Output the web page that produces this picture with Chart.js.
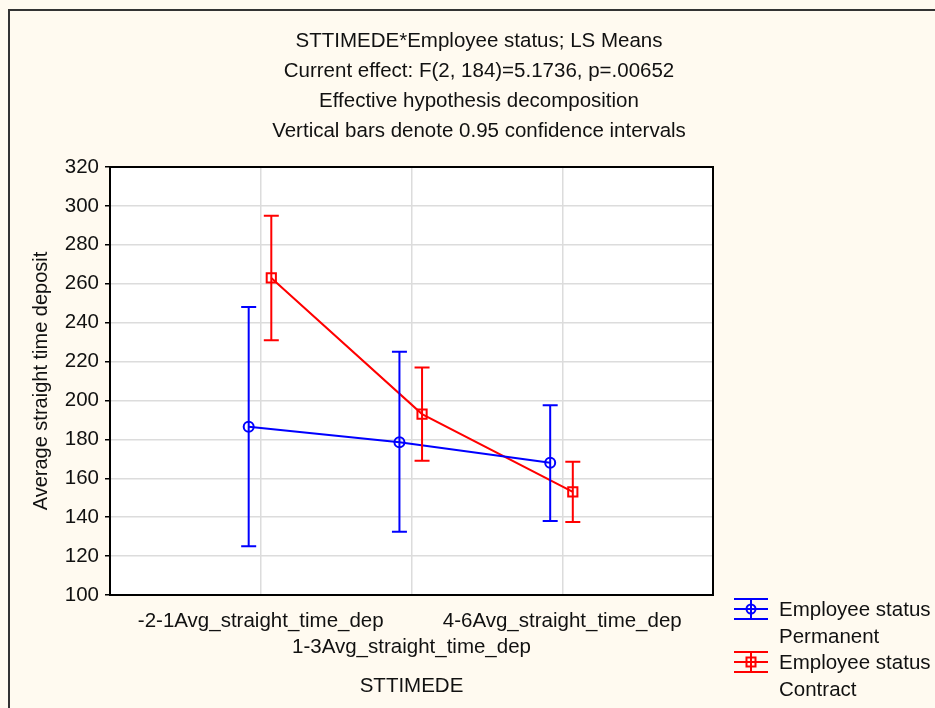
<!DOCTYPE html>
<html>
<head>
<meta charset="utf-8">
<script src="https://cdn.jsdelivr.net/npm/chart.js@4.4.0/dist/chart.umd.min.js"></script>
<style>
  html, body { margin: 0; background: #fffaf0; }
  canvas { display: block; }
</style>
</head>
<body>
<canvas id="lsMeansChart" width="935" height="708"></canvas>
<script>
// Datos: medias LS e intervalos de confianza al 95%
const levels = ['-2-1Avg_straight_time_dep', '1-3Avg_straight_time_dep', '4-6Avg_straight_time_dep'];
const levelPos = [1, 2, 3];
const yTicks = [100, 120, 140, 160, 180, 200, 220, 240, 260, 280, 300, 320];

const permanentMean = [186.5, 178.5, 168];
const permanentLow = [125, 132.5, 138];
const permanentHigh = [248, 225, 197.5];

const contractMean = [263, 193, 153];
const contractLow = [231, 169, 137.5];
const contractHigh = [295, 217, 168.5];

const titleLines = [
    'STTIMEDE*Employee status; LS Means',
    'Current effect: F(2, 184)=5.1736, p=.00652',
    'Effective hypothesis decomposition',
    'Vertical bars denote 0.95 confidence intervals'
];
const legendItems = [
    { lines: ['Employee status', 'Permanent'], color: '#0000ff', marker: 'circle' },
    { lines: ['Employee status', 'Contract'], color: '#ff0000', marker: 'rect' }
];

const FONT = '"Liberation Sans", Arial, sans-serif';
const TEXT = '#111111';
const BG = '#fffaf0';

// pequeño desplazamiento horizontal de cada serie respecto a su nivel
const shift = { permanent: -0.08, contract: 0.07 };

function toPoints(values, dx) {
    return values.map((v, i) => ({ x: levelPos[i] + dx, y: v }));
}

// Fondo, marco exterior, borde del área del gráfico y títulos
const framePlugin = {
    id: 'frame',
    beforeDraw(chart) {
        const { ctx, chartArea: a } = chart;
        ctx.save();
        ctx.fillStyle = BG;
        ctx.fillRect(0, 0, chart.width, chart.height);
        ctx.fillStyle = '#ffffff';
        ctx.fillRect(a.left, a.top, a.right - a.left, a.bottom - a.top);
        ctx.strokeStyle = '#333333';
        ctx.lineWidth = 2;
        ctx.beginPath();
        ctx.moveTo(9, chart.height);
        ctx.lineTo(9, 10);
        ctx.lineTo(chart.width, 10);
        ctx.stroke();
        ctx.restore();
    },
    afterDraw(chart) {
        const { ctx, chartArea: a } = chart;
        ctx.save();
        ctx.strokeStyle = '#000000';
        ctx.lineWidth = 2;
        ctx.strokeRect(a.left, a.top, a.right - a.left, a.bottom - a.top);

        ctx.fillStyle = TEXT;
        ctx.font = '20.5px ' + FONT;
        ctx.textAlign = 'center';
        ctx.textBaseline = 'alphabetic';
        titleLines.forEach((t, i) => ctx.fillText(t, 479, 46.5 + i * 30.3));
        ctx.restore();
    }
};

// Barras de error verticales
const errorBarPlugin = {
    id: 'errorBars',
    afterDatasetsDraw(chart) {
        const { ctx, scales } = chart;
        ctx.save();
        chart.data.datasets.forEach((ds, di) => {
            const meta = chart.getDatasetMeta(di);
            ctx.strokeStyle = ds.borderColor;
            ctx.lineWidth = 2;
            meta.data.forEach((pt, i) => {
                const yLo = scales.y.getPixelForValue(ds.low[i]);
                const yHi = scales.y.getPixelForValue(ds.high[i]);
                const cap = 7.5;
                ctx.beginPath();
                ctx.moveTo(pt.x, yLo);
                ctx.lineTo(pt.x, yHi);
                ctx.moveTo(pt.x - cap, yLo);
                ctx.lineTo(pt.x + cap, yLo);
                ctx.moveTo(pt.x - cap, yHi);
                ctx.lineTo(pt.x + cap, yHi);
                ctx.stroke();
            });
        });
        ctx.restore();
    }
};

// Leyenda a la derecha, debajo del gráfico
const legendPlugin = {
    id: 'sideLegend',
    afterDraw(chart) {
        const { ctx } = chart;
        ctx.save();
        ctx.font = '20.5px ' + FONT;
        ctx.textAlign = 'left';
        ctx.textBaseline = 'middle';
        legendItems.forEach((item, k) => {
            const cy = 609 + k * 53;
            const x0 = 734, x1 = 768, cx = (x0 + x1) / 2;
            ctx.strokeStyle = item.color;
            ctx.lineWidth = 2;
            ctx.beginPath();
            ctx.moveTo(x0, cy - 10); ctx.lineTo(x1, cy - 10);
            ctx.moveTo(x0, cy); ctx.lineTo(x1, cy);
            ctx.moveTo(x0, cy + 10); ctx.lineTo(x1, cy + 10);
            ctx.moveTo(cx, cy - 10); ctx.lineTo(cx, cy + 10);
            ctx.stroke();
            ctx.lineWidth = 2;
            ctx.beginPath();
            if (item.marker === 'circle') {
                ctx.arc(cx, cy, 4.5, 0, Math.PI * 2);
            } else {
                ctx.rect(cx - 4.5, cy - 4.5, 9, 9);
            }
            ctx.stroke();
            ctx.fillStyle = TEXT;
            item.lines.forEach((t, j) => ctx.fillText(t, 779, cy + 1 + j * 27));
        });
        ctx.restore();
    }
};

new Chart(document.getElementById('lsMeansChart').getContext('2d'), {
    type: 'line',
    data: {
        datasets: [
            {
                label: 'Employee status Permanent',
                data: toPoints(permanentMean, shift.permanent),
                low: permanentLow,
                high: permanentHigh,
                borderColor: '#0000ff',
                backgroundColor: 'transparent',
                borderWidth: 2,
                pointStyle: 'circle',
                pointRadius: 5,
                pointBorderWidth: 2,
                tension: 0
            },
            {
                label: 'Employee status Contract',
                data: toPoints(contractMean, shift.contract),
                low: contractLow,
                high: contractHigh,
                borderColor: '#ff0000',
                backgroundColor: 'transparent',
                borderWidth: 2,
                pointStyle: 'rect',
                pointRadius: 6.5,
                pointBorderWidth: 2,
                tension: 0
            }
        ]
    },
    options: {
        responsive: false,
        animation: false,
        layout: { padding: { top: 167, right: 222, left: 0, bottom: 0 } },
        plugins: {
            legend: { display: false },
            title: { display: false },
            tooltip: { enabled: false }
        },
        scales: {
            x: {
                type: 'linear',
                min: 0,
                max: 4,
                afterBuildTicks: (scale) => { scale.ticks = levelPos.map(v => ({ value: v })); },
                afterFit: (scale) => { scale.height = 113; },
                border: { display: false },
                grid: { color: '#dcdcdc', lineWidth: 1.5, drawTicks: false },
                ticks: {
                    color: TEXT,
                    font: { family: FONT, size: 20.5, lineHeight: 1.27 },
                    padding: 13,
                    maxRotation: 0,
                    autoSkip: false,
                    callback: (v) => {
                        const i = levelPos.indexOf(v);
                        return i === 1 ? ['', levels[i]] : levels[i];
                    }
                },
                title: {
                    display: true,
                    text: 'STTIMEDE',
                    color: TEXT,
                    font: { family: FONT, size: 20.5 },
                    padding: { top: 0, bottom: 9 }
                }
            },
            y: {
                min: 100,
                max: 320,
                afterBuildTicks: (scale) => { scale.ticks = yTicks.map(v => ({ value: v })); },
                afterFit: (scale) => { scale.width = 110; },
                border: { display: false },
                grid: { color: '#dcdcdc', lineWidth: 1.5, tickColor: '#000000', tickLength: 5 },
                ticks: {
                    color: TEXT,
                    font: { family: FONT, size: 20.5 },
                    padding: 6
                },
                title: {
                    display: true,
                    text: 'Average straight time deposit',
                    color: TEXT,
                    font: { family: FONT, size: 20 },
                    padding: { top: 29, bottom: 0 }
                }
            }
        }
    },
    plugins: [framePlugin, errorBarPlugin, legendPlugin]
});
</script>
</body>
</html>
